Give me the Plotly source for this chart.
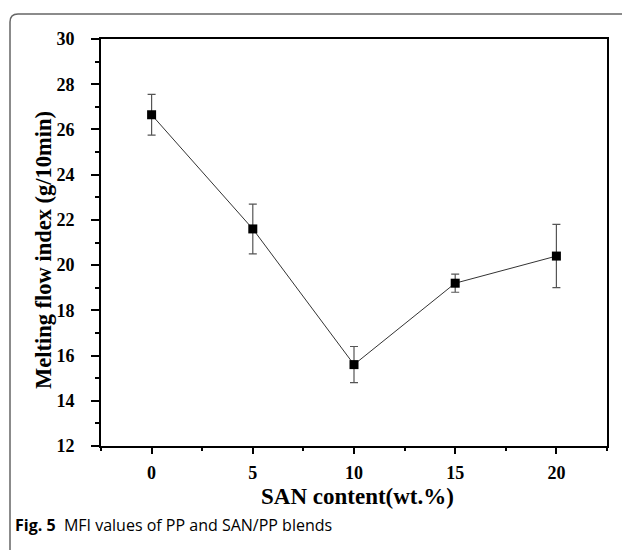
import plotly.graph_objects as go

# MFI of PP and SAN/PP blends
san_content = [0, 5, 10, 15, 20]
mfi = [26.65, 21.6, 15.6, 19.2, 20.4]
mfi_err = [0.9, 1.1, 0.8, 0.4, 1.4]

x_ticks = [0, 5, 10, 15, 20]
y_ticks = [12, 14, 16, 18, 20, 22, 24, 26, 28, 30]

serif = "Liberation Serif"
sans = "Open Sans"

fig = go.Figure()
fig.add_trace(go.Scatter(
    x=san_content, y=mfi,
    mode="lines+markers",
    line=dict(color="#333333", width=1),
    marker=dict(symbol="square", size=9, color="black"),
    error_y=dict(type="data", array=mfi_err, visible=True,
                 color="#555555", thickness=1.2, width=4),
    showlegend=False,
))

axis_common = dict(
    showline=True, linecolor="black", linewidth=2, mirror=True,
    ticks="outside", tickcolor="black", tickwidth=1.5,
    showgrid=False, zeroline=False,
    tickfont=dict(family=serif, size=18, color="black", weight="bold"),
)

fig.update_xaxes(
    range=[-2.5, 22.5], tickvals=x_ticks, ticklen=6,
    minor=dict(ticks="outside", ticklen=3, dtick=2.5, tick0=-2.5,
               tickcolor="black", tickwidth=1.5),
    ticklabelstandoff=3,
    **axis_common,
)
fig.update_yaxes(
    range=[12, 30], tickvals=y_ticks, ticklen=8,
    minor=dict(ticks="outside", ticklen=4, dtick=1, tick0=12,
               tickcolor="black", tickwidth=1.5),
    ticklabelstandoff=13,
    **axis_common,
)

# plot area in pixels: left 101, right 607, top 39, bottom 446
W, H = 622, 550
L, R, T, B = 101, 607, 39, 446
pw, ph = R - L, B - T


def px(x):
    return (x - L) / pw


def py(y):
    return (B - y) / ph


fig.add_annotation(
    text="<b>SAN content(wt.%)</b>", x=px(357), y=py(496),
    xref="paper", yref="paper", showarrow=False,
    xanchor="center", yanchor="middle",
    font=dict(family=serif, size=23, color="black"),
)
fig.add_annotation(
    text="<b>Melting flow index (g/10min)</b>", x=px(43), y=py(250),
    xref="paper", yref="paper", showarrow=False, textangle=-90,
    xanchor="center", yanchor="middle",
    font=dict(family=serif, size=22.5, color="black"),
)
fig.add_annotation(
    text="<b>Fig. 5</b>  MFI values of PP and SAN/PP blends",
    x=px(13), y=py(525), xref="paper", yref="paper", showarrow=False,
    xanchor="left", yanchor="middle",
    font=dict(family=sans, size=16, color="black"),
)

# rounded frame around the figure (top-left corner visible)
fx, fy, r = 10, 14, 8
path = (f"M {px(fx)},{py(560)} L {px(fx)},{py(fy + r)} "
        f"Q {px(fx)},{py(fy)} {px(fx + r)},{py(fy)} L {px(640)},{py(fy)}")
fig.add_shape(type="path", path=path, xref="paper", yref="paper",
              line=dict(color="#666666", width=1.5))

fig.update_layout(
    width=W, height=H,
    margin=dict(l=L, r=W - R, t=T, b=H - B),
    paper_bgcolor="white", plot_bgcolor="white",
)

fig.write_html("out.html")
